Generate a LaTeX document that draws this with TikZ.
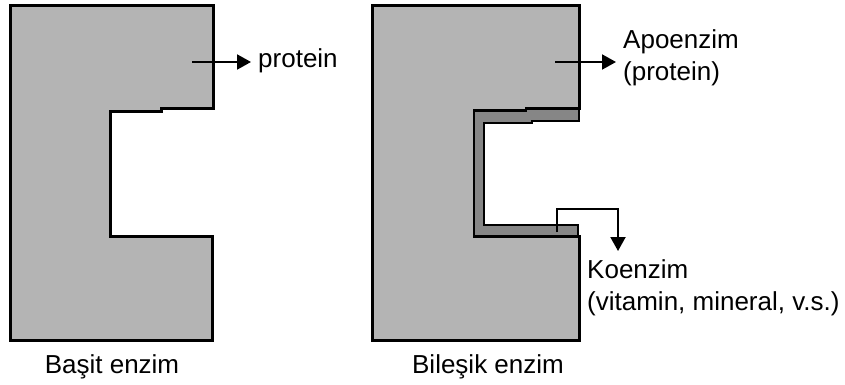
\documentclass[tikz,border=0pt]{standalone}
\usepackage{fontspec}
\setmainfont{Liberation Sans}
\usetikzlibrary{arrows.meta}
\definecolor{lightg}{RGB}{180,180,180}
\definecolor{darkg}{RGB}{134,134,134}
\tikzset{
  enzbody/.style={fill=lightg, draw=black, line width=3pt, line join=miter},
  coband/.style={fill=darkg, draw=black, line width=2.5pt, line join=miter},
  pointer/.style={draw=black, line width=2pt, -{Triangle[length=14pt,width=15pt]}},
  lbl/.style={font=\fontsize{26}{32}\selectfont, inner sep=0pt, align=left},
  caption/.style={font=\fontsize{26}{30}\selectfont, inner sep=0pt}
}
\begin{document}
\begin{tikzpicture}[x=1pt,y=-1pt]
\useasboundingbox (0,0) rectangle (845,385);
% simple enzyme
\draw[enzbody] (10,6) -- (213,6) -- (213,109) -- (161,109) -- (161,111.5) -- (110,111.5)
  -- (110,236) -- (212,236) -- (212,340) -- (10,340) -- cycle;
% compound enzyme
\draw[enzbody] (372,6) -- (579,6) -- (579,109) -- (526,109) -- (526,111) -- (474,111)
  -- (474,236) -- (579,236) -- (579,340) -- (372,340) -- cycle;
\draw[coband] (579,109) -- (526,109) -- (526,111) -- (474,111) -- (474,236) -- (578,236)
  -- (578,225) -- (484,225) -- (484,123) -- (532,123) -- (532,121) -- (579,121) -- cycle;
% labels
\node[lbl, anchor=west] (prot) at (258,61) {protein};
\node[lbl, anchor=west] (apo) at (623,58) {Apoenzim\\(protein)};
\node[lbl, anchor=west] (koe) at (587,288) {Koenzim\\(vitamin, mineral, v.s.)};
\node[caption] (cap1) at (112,367) {Başit enzim};
\node[caption] (cap2) at (488,367) {Bileşik enzim};
% pointers
\coordinate (s1) at (192,62);
\coordinate (s2) at (555,62);
\coordinate (s3) at (557,232);
\coordinate (t3) at (618,251);
\draw[pointer, shorten >=7pt] (s1) -- (prot.west |- s1) ;
\draw[pointer, shorten >=7pt] (s2) -- (apo.west |- s2);
\draw[pointer] (s3) |- (618,209) -- (t3);
\end{tikzpicture}
\end{document}
